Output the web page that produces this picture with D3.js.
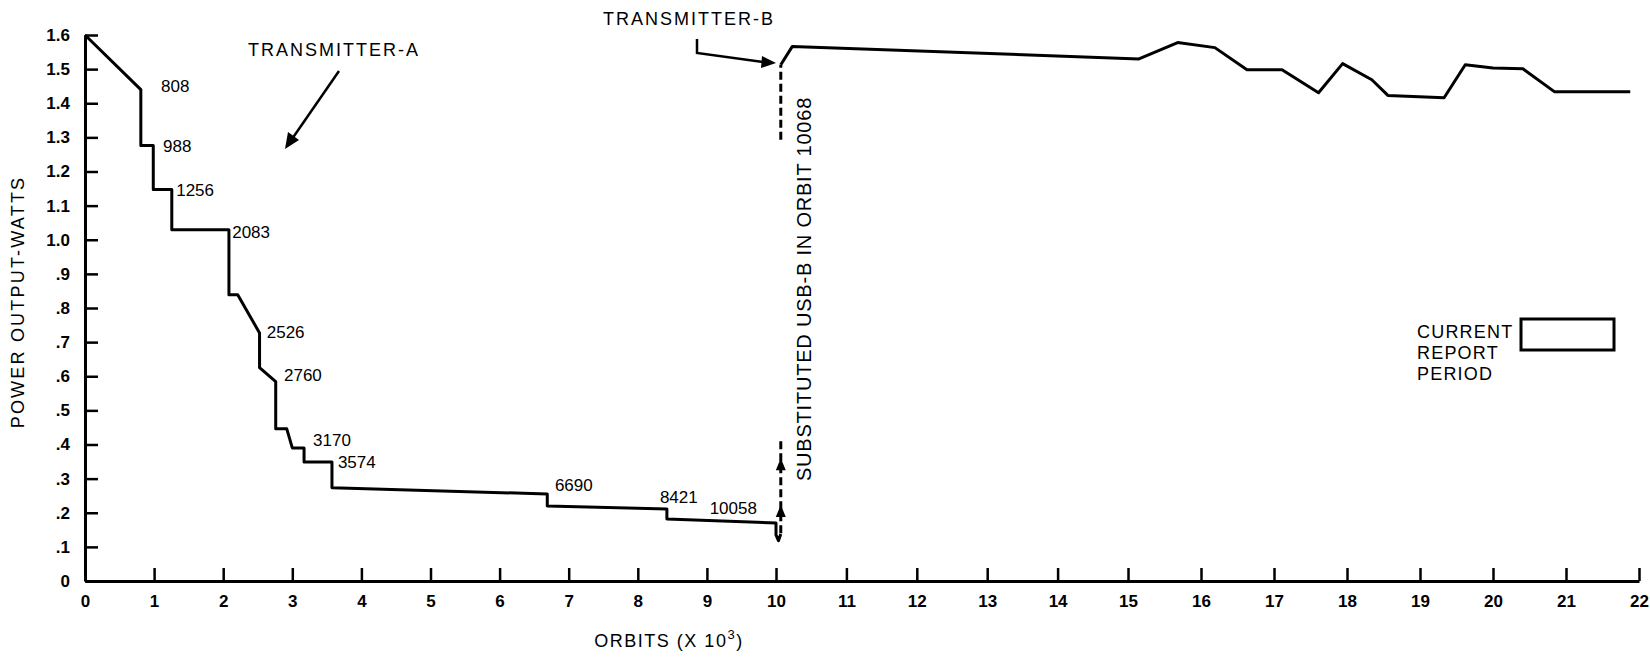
<!DOCTYPE html>
<html><head><meta charset="utf-8">
<script src="https://cdn.jsdelivr.net/npm/d3@7"></script>
<style>
body{margin:0;background:#fff}
svg text{font-family:"Liberation Sans",Arial,Helvetica,sans-serif;fill:#000}
</style>
</head><body>
<svg id="chart" width="1650" height="662"></svg>
<script>
// ---------- data ----------
const xTickValues = [0,1,2,3,4,5,6,7,8,9,10,11,12,13,14,15,16,17,18,19,20,21,22];
const yTickValues = [0,0.1,0.2,0.3,0.4,0.5,0.6,0.7,0.8,0.9,1.0,1.1,1.2,1.3,1.4,1.5,1.6];
const yTickLabels = ["0",".1",".2",".3",".4",".5",".6",".7",".8",".9","1.0","1.1","1.2","1.3","1.4","1.5","1.6"];

// Transmitter-A (orbits x 10^3, watts)
const txAOrbits = [0, 0.808, 0.808, 0.988, 0.988, 1.256, 1.256, 2.083, 2.083, 2.21, 2.526, 2.526, 2.760, 2.760, 2.92, 3.0, 3.170, 3.170, 3.574, 3.574, 6.690, 6.690, 8.421, 8.421, 10.0, 10.0, 10.035, 10.068];
const txAWatts  = [1.60, 1.44, 1.276, 1.276, 1.147, 1.147, 1.029, 1.029, 0.839, 0.839, 0.727, 0.625, 0.584, 0.446, 0.446, 0.39, 0.39, 0.349, 0.349, 0.273, 0.255, 0.22, 0.211, 0.182, 0.17, 0.135, 0.118, 0.138];

// Substitution (dashed) segments
const subLowOrbits = [10.068, 10.068];
const subLowWatts  = [0.14, 0.41];
const subArrowWatts = [0.223, 0.36];
const subHighOrbits = [10.068, 10.068];
const subHighWatts  = [1.293, 1.513];

// Transmitter-B
const txBOrbits = [10.068, 10.23, 15.15, 15.68, 16.19, 16.63, 17.11, 17.61, 17.94, 18.34, 18.56, 19.33, 19.62, 20.0, 20.41, 20.84, 21.88];
const txBWatts  = [1.513, 1.566, 1.530, 1.578, 1.563, 1.498, 1.498, 1.431, 1.516, 1.469, 1.423, 1.416, 1.513, 1.503, 1.501, 1.434, 1.434];

// Orbit annotations (text, orbit position, watt position)
const orbitLabels = ["808","988","1256","2083","2526","2760","3170","3574","6690","8421","10058"];
const orbitLabelX = [1.10, 1.13, 1.32, 2.13, 2.63, 2.88, 3.30, 3.66, 6.80, 8.32, 9.04];
const orbitLabelY = [1.452, 1.276, 1.147, 1.023, 0.730, 0.604, 0.413, 0.349, 0.282, 0.246, 0.214];

const legendLines = ["CURRENT", "REPORT", "PERIOD"];

// ---------- chart ----------
const svg = d3.select("#chart");
const x = d3.scaleLinear().domain([0, 10, 15, 22]).range([85, 776, 1128, 1639]);
const y = d3.scaleLinear().domain([0, 1.6]).range([581, 35]);

// axes
const xAxis = svg.append("g").attr("transform", `translate(0,${y(0)})`)
  .call(d3.axisBottom(x).tickValues(xTickValues).tickSize(-13).tickSizeOuter(0).tickPadding(14).tickFormat(d => d));
const yAxis = svg.append("g").attr("transform", `translate(${x(0)},0)`)
  .call(d3.axisLeft(y).tickValues(yTickValues).tickSize(-13).tickSizeOuter(0).tickPadding(15)
    .tickFormat((d, i) => yTickLabels[i]));
[xAxis, yAxis].forEach(g => {
  g.select(".domain").attr("stroke", "#000").attr("stroke-width", 3);
  g.selectAll(".tick line").attr("stroke", "#000").attr("stroke-width", 2.5);
  g.selectAll(".tick text").attr("font-size", 17).attr("font-weight", "bold")
    .style("font-family", '"Liberation Sans",Arial,sans-serif');
});

// axis titles
svg.append("text").attr("transform", "translate(24,302) rotate(-90)")
  .attr("text-anchor", "middle").attr("font-size", 18).attr("letter-spacing", 2.2)
  .text("POWER OUTPUT-WATTS");
const xTitle = svg.append("text").attr("x", 669).attr("y", 647).attr("text-anchor", "middle")
  .attr("font-size", 18).attr("letter-spacing", 1.5);
xTitle.append("tspan").text("ORBITS (X 10");
xTitle.append("tspan").attr("dy", -8).attr("font-size", 13).text("3");
xTitle.append("tspan").attr("dy", 8).text(")");

const line = d3.line().x(d => x(d[0])).y(d => y(d[1]));

// Transmitter-A curve
svg.append("path").datum(d3.zip(txAOrbits, txAWatts)).attr("d", line)
  .attr("fill", "none").attr("stroke", "#000").attr("stroke-width", 3).attr("stroke-linejoin", "round");

// dashed substitution lines
[[subLowOrbits, subLowWatts], [subHighOrbits, subHighWatts]].forEach(([ox, wy]) => {
  svg.append("path").datum(d3.zip(ox, wy)).attr("d", line)
    .attr("fill", "none").attr("stroke", "#000").attr("stroke-width", 3).attr("stroke-dasharray", "8,4");
});
subArrowWatts.forEach(w => {
  const cx = x(subLowOrbits[0]), cy = y(w);
  svg.append("path").attr("d", `M${cx},${cy} l-5,12 l10,0 z`).attr("fill", "#000");
});

// Transmitter-B curve
svg.append("path").datum(d3.zip(txBOrbits, txBWatts)).attr("d", line)
  .attr("fill", "none").attr("stroke", "#000").attr("stroke-width", 3).attr("stroke-linejoin", "round");

// orbit labels
svg.append("g").selectAll("text").data(orbitLabels).join("text")
  .attr("x", (d, i) => x(orbitLabelX[i])).attr("y", (d, i) => y(orbitLabelY[i]))
  .attr("dy", "0.36em").attr("font-size", 17).text(d => d);

// Transmitter annotations
svg.append("text").attr("x", 248).attr("y", 56).attr("font-size", 18).attr("letter-spacing", 2)
  .text("TRANSMITTER-A");
svg.append("line").attr("x1", 339).attr("y1", 71).attr("x2", 292).attr("y2", 139)
  .attr("stroke", "#000").attr("stroke-width", 2.5);
svg.append("path").attr("d", "M285,149 L288,132 L299,140 Z").attr("fill", "#000");

svg.append("text").attr("x", 603).attr("y", 25).attr("font-size", 18).attr("letter-spacing", 2)
  .text("TRANSMITTER-B");
svg.append("path").attr("d", "M697,39 L697,53 L763,62").attr("fill", "none")
  .attr("stroke", "#000").attr("stroke-width", 2.5);
svg.append("path").attr("d", "M776,63 L762,56 L761,68 Z").attr("fill", "#000");

svg.append("text").attr("transform", `translate(${x(10.068) + 30},289) rotate(-90)`)
  .attr("text-anchor", "middle").attr("font-size", 20).attr("letter-spacing", 0.8)
  .text("SUBSTITUTED USB-B IN ORBIT 10068");

// legend
const lg = svg.append("g").attr("font-size", 18).attr("letter-spacing", 1.2);
legendLines.forEach((t, i) => {
  lg.append("text").attr("x", 1417).attr("y", 338 + i * 21).text(t);
});
svg.append("rect").attr("x", 1521).attr("y", 319).attr("width", 93).attr("height", 31)
  .attr("fill", "none").attr("stroke", "#000").attr("stroke-width", 3);
</script>
</body></html>
